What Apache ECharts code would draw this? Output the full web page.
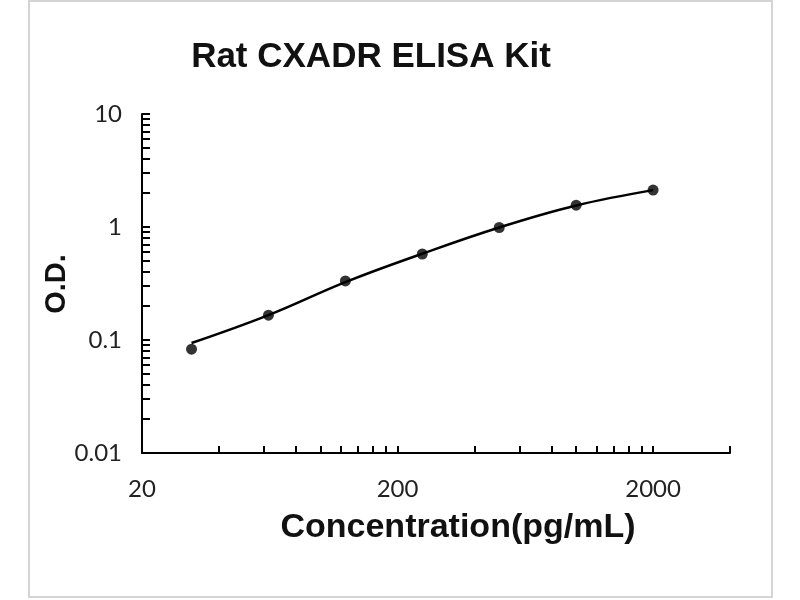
<!DOCTYPE html>
<html>
<head>
    <meta http-equiv="Content-Type" content="text/html; charset=UTF-8" />
    <title>Rat CXADR ELISA Kit</title>
    <script src="https://cdn.jsdelivr.net/npm/echarts@6/dist/echarts.min.js"></script>
    <style>
        html, body { margin: 0; padding: 0; background: #fff; }
    </style>
</head>
<body>
<div id="main" style="width: 800px;height:600px;"></div>
<script type="text/javascript">
    // standard curve data (pg/mL vs O.D.)
    var concentrations = [31.25, 62.5, 125, 250, 500, 1000, 2000];
    var odValues = [0.083, 0.166, 0.333, 0.577, 0.99, 1.56, 2.12];
    // fitted curve
    var fitConc = [31.25, 62.5, 125, 250, 500, 1000, 2000];
    var fitOd = [0.094, 0.166, 0.325, 0.58, 0.99, 1.55, 2.12];

    // tick labels / tick marks
    var xLabels = [20, 200, 2000];
    var xTicks = [20, 40, 60, 80, 100, 120, 140, 160, 180, 200,
                  400, 600, 800, 1000, 1200, 1400, 1600, 1800, 2000, 4000];
    var yLabels = [0.01, 0.1, 1, 10];
    var yTicks = [0.01, 0.02, 0.03, 0.04, 0.05, 0.06, 0.07, 0.08, 0.09,
                  0.1, 0.2, 0.3, 0.4, 0.5, 0.6, 0.7, 0.8, 0.9,
                  1, 2, 3, 4, 5, 6, 7, 8, 9, 10];

    var myChart = echarts.init(document.getElementById('main'));

    var pts = concentrations.map(function (c, i) { return [c, odValues[i]]; });
    var fit = fitConc.map(function (c, i) { return [c, fitOd[i]]; });

    var labelStyle = {
        fontFamily: 'Lato',
        fontSize: 24,
        color: '#222',
        formatter: function (v) { return String(v); }
    };

    var option = {
        backgroundColor: '#fff',
        animation: false,
        title: {
            text: 'Rat CXADR ELISA Kit',
            left: 366,
            top: 35,
            textAlign: 'center',
            textStyle: {
                fontFamily: 'Liberation Sans',
                fontWeight: 'bold',
                fontSize: 35,
                color: '#111'
            }
        },
        grid: {
            left: 142,
            top: 114,
            width: 588,
            height: 339
        },
        xAxis: {
            type: 'log',
            logBase: 10,
            min: 20,
            max: 4000,
            axisLine: { lineStyle: { color: '#000', width: 2 } },
            axisTick: {
                inside: true,
                length: 7,
                customValues: xTicks,
                lineStyle: { color: '#000', width: 2 }
            },
            axisLabel: echarts.util.extend({ customValues: xLabels, margin: 24 }, labelStyle),
            splitLine: { show: false },
            minorTick: { show: false }
        },
        yAxis: {
            type: 'log',
            logBase: 10,
            min: 0.01,
            max: 10,
            axisLine: { show: true, lineStyle: { color: '#000', width: 2 } },
            axisTick: {
                show: true,
                inside: true,
                length: 8,
                customValues: yTicks,
                lineStyle: { color: '#000', width: 2 }
            },
            axisLabel: echarts.util.extend({ customValues: yLabels, margin: 20 }, labelStyle),
            splitLine: { show: false }
        },
        graphic: [
            {
                type: 'rect',
                silent: true,
                shape: { x: 29, y: 1, width: 743, height: 596 },
                style: { fill: 'none', stroke: '#d4d4d4', lineWidth: 2 }
            },
            {
                type: 'text',
                x: 57,
                y: 284,
                rotation: Math.PI / 2,
                style: {
                    text: 'O.D.',
                    textAlign: 'center',
                    textVerticalAlign: 'middle',
                    fontFamily: 'Liberation Sans',
                    fontWeight: 'bold',
                    fontSize: 29,
                    fill: '#111'
                }
            },
            {
                type: 'text',
                x: 458,
                y: 528,
                style: {
                    text: 'Concentration(pg/mL)',
                    textAlign: 'center',
                    textVerticalAlign: 'middle',
                    fontFamily: 'Liberation Sans',
                    fontWeight: 'bold',
                    fontSize: 34,
                    fill: '#111'
                }
            }
        ],
        series: [
            {
                name: 'fit',
                type: 'line',
                smooth: 0.4,
                showSymbol: false,
                symbol: 'none',
                data: fit,
                lineStyle: { color: '#000', width: 2.5 }
            },
            {
                name: 'O.D.',
                type: 'scatter',
                symbol: 'circle',
                symbolSize: 11,
                data: pts,
                itemStyle: { color: '#000' }
            }
        ]
    };

    myChart.setOption(option);
</script>
</body>
</html>
